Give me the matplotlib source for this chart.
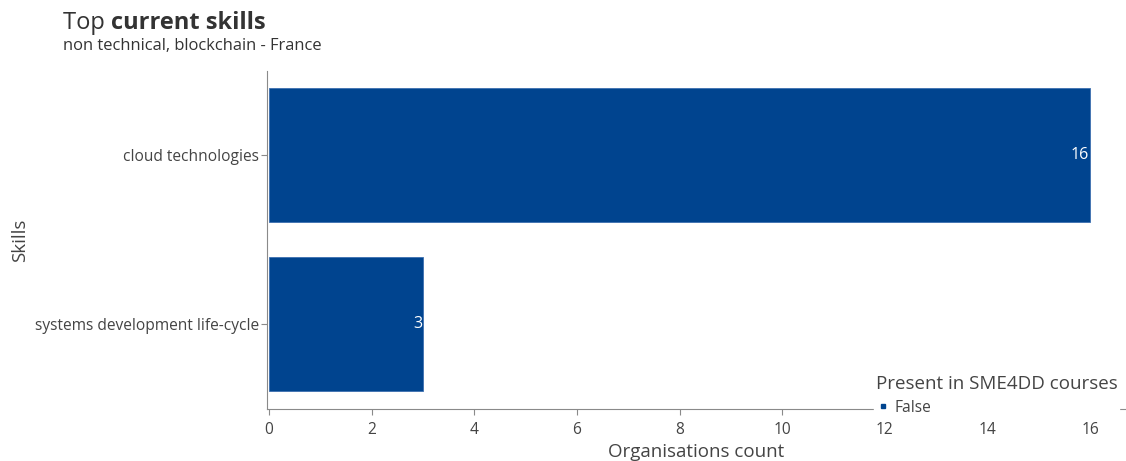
import matplotlib.pyplot as plt
from matplotlib.lines import Line2D

plt.rcParams['font.family'] = ['Open Sans', 'DejaVu Sans']

skills = ["systems development life-cycle", "cloud technologies"]
counts = [3, 16]
legend_title = "Present in SME4DD courses"
legend_label = "False"
xticks = [0, 2, 4, 6, 8, 10, 12, 14, 16]

bar_color = "#00448f"
text_color = "#444444"
axis_color = "#8a8a8a"


def main():
    fig = plt.figure(figsize=(11.26, 4.61), dpi=100)
    ax = fig.add_axes([267 / 1126, 1 - 408.5 / 461, 1 - 267 / 1126, 338 / 461])

    ypos = range(len(skills))
    bars = ax.barh(ypos, counts, height=0.79, color=bar_color,
                   edgecolor="#3d6fb0", linewidth=0.6)
    for b, v in zip(bars, counts):
        ax.text(b.get_width() - 0.02, b.get_y() + b.get_height() / 2, str(v),
                ha="right", va="center", color="white", fontsize=11.5)

    ax.set_xlim(-0.04, 16.7)
    ax.set_ylim(-0.5, 1.5)
    ax.set_xticks(xticks)
    ax.set_yticks(list(ypos))
    ax.set_yticklabels(skills)
    ax.tick_params(axis="both", colors=axis_color, labelcolor=text_color,
                   labelsize=11.2, length=4, width=0.8)
    ax.tick_params(axis="x", pad=6)
    ax.tick_params(axis="y", pad=2)

    for side in ["top", "right"]:
        ax.spines[side].set_visible(False)
    for side in ["left", "bottom"]:
        ax.spines[side].set_color(axis_color)
        ax.spines[side].set_linewidth(0.8)

    ax.set_xlabel("Organisations count", fontsize=13.5, color=text_color,
                  labelpad=3)
    fig.text(20 / 1126, 1 - 240 / 461, "Skills", rotation=90, fontsize=13.5,
             color=text_color, ha="center", va="center")

    # legend box sits on top of the axis line
    handle = Line2D([], [], marker="s", linestyle="none", color=bar_color,
                    markersize=3.5)
    leg = fig.legend([handle], [legend_label], title=legend_title,
                     loc="upper left", bbox_to_anchor=(874 / 1126, 1 - 373 / 461),
                     frameon=True, fontsize=11.2, title_fontsize=13.5,
                     handlelength=0.9, handletextpad=0.3, borderpad=0.1,
                     labelspacing=0.1, borderaxespad=0)
    leg.get_frame().set_facecolor("white")
    leg.get_frame().set_edgecolor("white")
    leg.get_frame().set_alpha(1)
    leg.get_title().set_color(text_color)
    leg._legend_box.align = "left"
    leg._legend_box.sep = 5
    for t in leg.get_texts():
        t.set_color(text_color)
    leg.set_zorder(5)

    # title with a bold part
    t1 = fig.text(63 / 1126, 1 - 23 / 461, "Top ", fontsize=17,
                  color="#333333", va="center", ha="left")
    fig.canvas.draw()
    bb = t1.get_window_extent()
    fig.text(bb.x1 / fig.bbox.width, 1 - 23 / 461, "current skills",
             fontsize=17, fontweight="bold", color="#333333",
             va="center", ha="left")
    fig.text(63 / 1126, 1 - 46.5 / 461, "non technical, blockchain - France",
             fontsize=11.9, color="#333333", va="center", ha="left")

    fig.savefig("out.png", dpi=100)


if __name__ == "__main__":
    main()
